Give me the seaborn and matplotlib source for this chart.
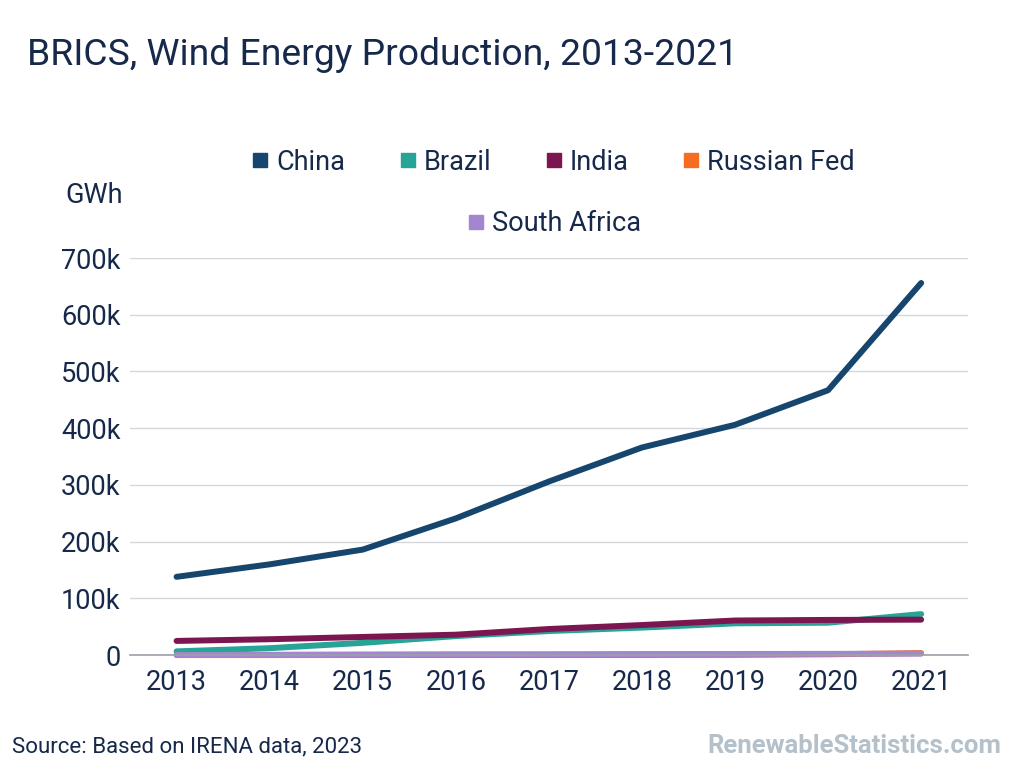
import pandas as pd
import matplotlib.pyplot as plt
import seaborn as sns
from matplotlib.lines import Line2D
from matplotlib.ticker import FuncFormatter

# Data (GWh)
years = [2013, 2014, 2015, 2016, 2017, 2018, 2019, 2020, 2021]
china = [138000, 160000, 186000, 241000, 306000, 366000, 406000, 467000, 656000]
brazil = [6600, 12200, 21600, 33500, 42400, 48500, 56000, 57100, 72300]
india = [25000, 28000, 32000, 36000, 46000, 53000, 61000, 62000, 62500]
russia = [10, 10, 150, 150, 130, 230, 320, 1380, 3600]
south_africa = [100, 600, 1100, 1500, 1600, 1900, 2000, 2200, 2500]

countries = ['China', 'Brazil', 'India', 'Russian Fed', 'South Africa']
colors = ['#16456d', '#27a496', '#7c1650', '#f56d22', '#a386cf']
text_col = '#17294a'

df = pd.concat([
    pd.DataFrame({'year': years, 'value': china, 'country': 'China'}),
    pd.DataFrame({'year': years, 'value': brazil, 'country': 'Brazil'}),
    pd.DataFrame({'year': years, 'value': india, 'country': 'India'}),
    pd.DataFrame({'year': years, 'value': russia, 'country': 'Russian Fed'}),
    pd.DataFrame({'year': years, 'value': south_africa, 'country': 'South Africa'}),
])

sns.set_style('white')
plt.rcParams['font.family'] = ['Roboto', 'DejaVu Sans']

fig = plt.figure(figsize=(10.24, 7.68), dpi=100)
ax = fig.add_axes([0.127, 0.147, 0.818, 0.517])

sns.lineplot(data=df, x='year', y='value', hue='country', hue_order=countries,
             palette=colors, linewidth=4.3, legend=False, ax=ax,
             solid_capstyle='round', solid_joinstyle='round', clip_on=False)

ax.set_xlim(2012.5, 2021.5)
ax.set_ylim(0, 700000)
ax.set_xticks(years)
ax.set_yticks(range(0, 700001, 100000))
ax.yaxis.set_major_formatter(FuncFormatter(lambda v, p: '0' if v == 0 else f'{int(v/1000)}k'))
ax.grid(axis='y', color='#d3d7dc', linewidth=1)
ax.set_axisbelow(True)
for s in ['top', 'right', 'left']:
    ax.spines[s].set_visible(False)
ax.spines['bottom'].set_color('#9aa1a8')
ax.spines['bottom'].set_linewidth(1.2)
ax.tick_params(axis='both', length=0, labelsize=19.5, colors=text_col)
ax.tick_params(axis='y', pad=7)
ax.tick_params(axis='x', pad=10)
ax.set_xlabel('')
ax.set_ylabel('')

fig.text(0.026, 0.928, 'BRICS, Wind Energy Production, 2013-2021', fontsize=26.8,
         color=text_col, va='center', ha='left')
fig.text(0.064, 0.746, 'GWh', fontsize=19.5, color=text_col, va='center', ha='left')

handles = [Line2D([], [], marker='s', linestyle='none', markersize=10,
                  color=c, label=n) for n, c in zip(countries, colors)]
leg1 = fig.legend(handles=handles[:4], loc='center', bbox_to_anchor=(0.5405, 0.789),
                  ncol=4, frameon=False, fontsize=19.5, handlelength=0.6,
                  handletextpad=0.3, columnspacing=2.0, labelcolor=text_col)
leg2 = fig.legend(handles=handles[4:], loc='center', bbox_to_anchor=(0.5415, 0.709),
                  ncol=1, frameon=False, fontsize=19.5, handlelength=0.6,
                  handletextpad=0.3, labelcolor=text_col)

fig.text(0.012, 0.028, 'Source: Based on IRENA data, 2023', fontsize=16,
         color=text_col, va='center', ha='left')
fig.text(0.978, 0.028, 'RenewableStatistics.com', fontsize=18.5, fontweight='bold',
         color='#b4c0ca', va='center', ha='right')

fig.savefig('out.png', dpi=100)
